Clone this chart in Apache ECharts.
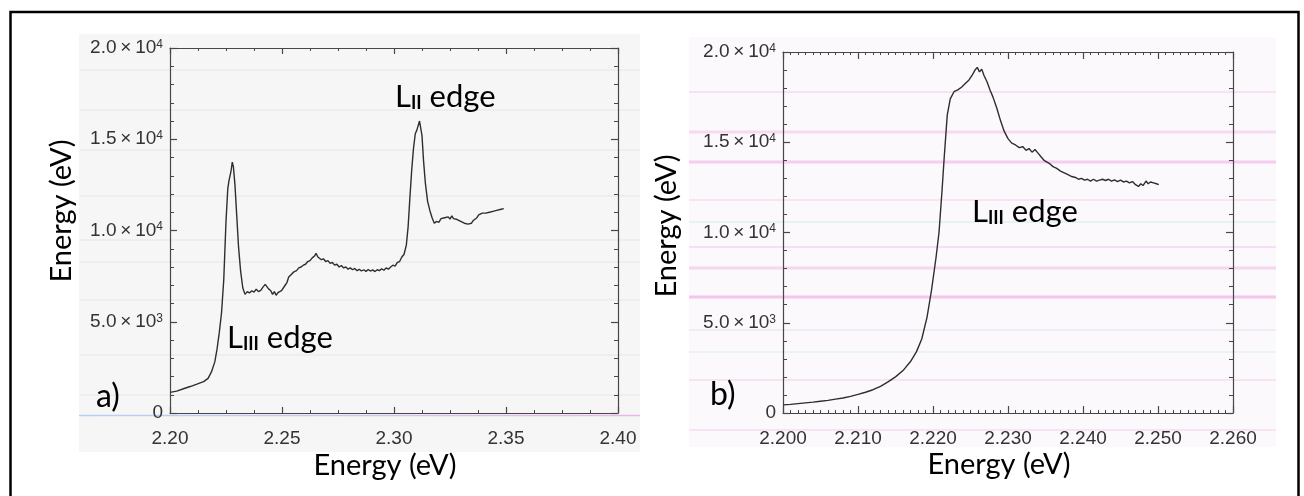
<!DOCTYPE html>
<html>
<head>
<meta charset="utf-8">
<script src="https://cdn.jsdelivr.net/npm/echarts@6/dist/echarts.min.js"></script>
<style>
html,body{margin:0;padding:0;background:#fff;}
#chart{width:1304px;height:496px;}
</style>
</head>
<body>
<div id="chart"></div>
<script>
// ---- Panel a) : L-edge spectrum ----
const energyA = [2.2000,2.2030,2.2060,2.2090,2.2120,2.2150,2.2170,2.2185,2.2200,2.2210,2.2220,2.2230,2.2240,2.2250,2.2258,2.2263,2.2268,2.2273,2.2278,2.2283,2.2290,2.2298,2.2306,2.2315,2.2325,2.2335,2.2345,2.2355,2.2365,2.2375,2.2385,2.2395,2.2405,2.2415,2.2425,2.2432,2.2440,2.2450,2.2458,2.2466,2.2474,2.2482,2.2490,2.2498,2.2506,2.2514,2.2522,2.2530,2.2538,2.2546,2.2555,2.2565,2.2575,2.2585,2.2595,2.2605,2.2615,2.2625,2.2635,2.2645,2.2652,2.2660,2.2668,2.2676,2.2685,2.2695,2.2705,2.2715,2.2725,2.2735,2.2745,2.2755,2.2765,2.2775,2.2785,2.2795,2.2805,2.2815,2.2825,2.2835,2.2845,2.2855,2.2865,2.2875,2.2885,2.2895,2.2905,2.2915,2.2925,2.2935,2.2945,2.2955,2.2965,2.2975,2.2985,2.2995,2.3005,2.3015,2.3025,2.3035,2.3045,2.3055,2.3063,2.3071,2.3079,2.3087,2.3095,2.3102,2.3108,2.3114,2.3119,2.3125,2.3132,2.3140,2.3150,2.3160,2.3170,2.3180,2.3190,2.3200,2.3210,2.3218,2.3226,2.3234,2.3242,2.3250,2.3258,2.3266,2.3274,2.3282,2.3290,2.3298,2.3306,2.3314,2.3322,2.3330,2.3338,2.3346,2.3354,2.3362,2.3370,2.3378,2.3386,2.3394,2.3402,2.3410,2.3418,2.3426,2.3434,2.3442,2.3450,2.3458,2.3466,2.3474,2.3482,2.3490];
const intensityA = [1130,1200,1330,1450,1580,1720,1900,2250,2800,3500,4400,5480,7300,10500,12300,12700,12600,13300,13750,13500,12500,10800,9100,7800,6850,6500,6650,6580,6700,6620,6780,6650,6720,6900,7050,6950,6800,6700,6500,6650,6450,6600,6550,6700,6800,7000,7150,7450,7550,7650,7750,7800,7950,8000,8100,8150,8300,8350,8500,8600,8750,8550,8600,8400,8450,8300,8350,8200,8250,8100,8150,8000,8080,7950,8000,7880,7950,7850,7920,7800,7870,7780,7850,7760,7860,7780,7840,7750,7850,7800,7900,7820,7950,7880,8000,8100,8050,8250,8300,8550,8700,9200,10200,11800,13300,14500,15300,15500,15400,16000,15900,15200,13800,12600,11600,11100,10700,10400,10500,10450,10650,10550,10700,10600,10750,10620,10800,10650,10750,10600,10650,10500,10550,10400,10450,10350,10450,10400,10550,10650,10700,10850,10800,10950,10850,10950,10900,11000,10950,11050,11000,11100,11050,11150,11100,11200];

// ---- Panel b) : L_III edge spectrum ----
const energyB = [2.2000,2.2010,2.2020,2.2030,2.2040,2.2050,2.2060,2.2070,2.2080,2.2090,2.2100,2.2110,2.2120,2.2130,2.2140,2.2150,2.2160,2.2170,2.2178,2.2185,2.2192,2.2198,2.2204,2.2208,2.2212,2.2215,2.2219,2.2223,2.2228,2.2233,2.2238,2.2243,2.2248,2.2252,2.2256,2.2259,2.2262,2.2265,2.2268,2.2272,2.2276,2.2280,2.2285,2.2290,2.2295,2.2300,2.2305,2.2310,2.2315,2.2320,2.2324,2.2328,2.2332,2.2336,2.2340,2.2344,2.2348,2.2352,2.2356,2.2360,2.2365,2.2370,2.2375,2.2380,2.2385,2.2390,2.2394,2.2398,2.2402,2.2406,2.2410,2.2414,2.2418,2.2422,2.2426,2.2430,2.2434,2.2438,2.2442,2.2446,2.2450,2.2454,2.2458,2.2462,2.2466,2.2470,2.2474,2.2477,2.2480,2.2484,2.2487,2.2490,2.2494,2.2498,2.2501];
const intensityB = [450,480,520,560,600,650,700,770,830,920,1030,1150,1290,1480,1720,2000,2350,2850,3400,4100,5300,6800,8600,10000,12300,14200,16500,17400,17800,17900,18050,18250,18450,18700,19000,19150,18900,19050,18700,18350,17900,17500,16900,16200,15600,15200,14950,14850,14700,14750,14550,14650,14450,14600,14400,14200,14000,13900,13800,13650,13550,13400,13300,13200,13100,13050,12950,13000,12900,12950,12850,12950,12850,12900,12950,12880,12950,12850,12920,12820,12900,12800,12850,12750,12820,12650,12550,12700,12600,12850,12700,12800,12750,12700,12650];

// ---- Tick labels ----
const xTicksA = [2.20, 2.25, 2.30, 2.35, 2.40];
const xTickLabelsA = ['2.20', '2.25', '2.30', '2.35', '2.40'];
const xTicksB = [2.20, 2.21, 2.22, 2.23, 2.24, 2.25, 2.26];
const xTickLabelsB = ['2.200', '2.210', '2.220', '2.230', '2.240', '2.250', '2.260'];
const yTicks = [0, 5000, 10000, 15000, 20000];
const yTickMantissa = ['0', '5.0\u2009×\u200910', '1.0\u2009×\u200910', '1.5\u2009×\u200910', '2.0\u2009×\u200910'];
const yTickExponent = ['', '3', '4', '4', '4'];

const axisTitle = 'Energy (eV)';

const chart = echarts.init(document.getElementById('chart'), null, {renderer: 'canvas'});

const tickFont = 'Liberation Sans';
const tickColor = '#333333';
const axisColor = '#474747';

function nearestIndex(arr, v) {
  let best = 0, bd = Infinity;
  arr.forEach((a, i) => { const d = Math.abs(a - v); if (d < bd) { bd = d; best = i; } });
  return best;
}
function xFmt(ticks, labels) {
  return v => labels[nearestIndex(ticks, v)];
}
function yFmt(v) {
  const i = nearestIndex(yTicks, v);
  if (!yTickExponent[i]) return '{a|' + yTickMantissa[i] + '}';
  return '{a|' + yTickMantissa[i] + '}{s|' + yTickExponent[i] + '}';
}
const yRich = {
  a: {fontFamily: tickFont, fontSize: 19, color: tickColor},
  s: {fontFamily: tickFont, fontSize: 12, color: tickColor, verticalAlign: 'top'}
};

function xAxes(grid, min, max, interval, minorSplit, ticks, labels, majorLen, minorLen) {
  const common = {
    gridIndex: grid, type: 'value', min: min, max: max, interval: interval,
    splitLine: {show: false},
    axisLine: {show: true, onZero: false, lineStyle: {color: axisColor, width: 1.2}},
    axisTick: {show: true, inside: true, length: majorLen, lineStyle: {color: axisColor, width: 1.2}},
    minorTick: {show: true, splitNumber: minorSplit, length: minorLen, lineStyle: {color: axisColor, width: 1}},
    minorSplitLine: {show: false}
  };
  return [
    Object.assign({}, common, {position: 'bottom',
      axisLabel: {show: true, margin: 16, formatter: xFmt(ticks, labels), fontFamily: tickFont, fontSize: 19, color: tickColor}}),
    Object.assign({}, common, {position: 'top', axisLabel: {show: false}})
  ];
}
function yAxes(grid, majorLen, minorLen) {
  const common = {
    gridIndex: grid, type: 'value', min: 0, max: 20000, interval: 5000,
    splitLine: {show: false},
    axisLine: {show: true, onZero: false, lineStyle: {color: axisColor, width: 1.2}},
    axisTick: {show: true, inside: true, length: majorLen, lineStyle: {color: axisColor, width: 1.2}},
    minorTick: {show: true, splitNumber: 5, length: minorLen, lineStyle: {color: axisColor, width: 1}},
    minorSplitLine: {show: false}
  };
  return [
    Object.assign({}, common, {position: 'left',
      axisLabel: {show: true, margin: 7, formatter: yFmt, rich: yRich}}),
    Object.assign({}, common, {position: 'right', axisLabel: {show: false}})
  ];
}

const xa = xAxes(0, 2.2, 2.4, 0.05, 4, xTicksA, xTickLabelsA, 6, 3)
  .concat(xAxes(1, 2.2, 2.26, 0.01, 10, xTicksB, xTickLabelsB, 7, 3));
const ya = yAxes(0, 7, 4).concat(yAxes(1, 7, 4));

// background decorations (scanned figure panels)
const deco = [];
deco.push({type: 'rect', z: -10, silent: true, shape: {x: 79, y: 34, width: 561, height: 418}, style: {fill: '#f6f6f6'}});
deco.push({type: 'rect', z: -10, silent: true, shape: {x: 689, y: 37, width: 587, height: 410}, style: {fill: '#fbf9fb'}});
[70, 110, 150, 196, 240, 262, 300, 355, 395].forEach(y => {
  deco.push({type: 'line', z: -9, silent: true, shape: {x1: 80, y1: y, x2: 640, y2: y}, style: {stroke: 'rgba(205,205,205,0.22)', lineWidth: 1.5}});
});
deco.push({type: 'line', z: -8, silent: true, shape: {x1: 79, y1: 415.5, x2: 640, y2: 415.5},
  style: {lineWidth: 1.5, stroke: new echarts.graphic.LinearGradient(0, 0, 1, 0, [{offset: 0, color: '#b6d0f2'}, {offset: 1, color: '#eab6ea'}])}});
[[92,'rgba(238,170,230,0.28)',2],[132,'rgba(238,160,228,0.35)',3],[162,'rgba(238,150,225,0.45)',3],[200,'rgba(230,180,230,0.28)',2],[222,'rgba(190,235,225,0.35)',2],[247,'rgba(238,160,228,0.3)',2],[268,'rgba(238,160,228,0.38)',3],[297,'rgba(238,140,220,0.48)',3],[330,'rgba(230,200,235,0.32)',2],[352,'rgba(200,235,230,0.35)',2],[380,'rgba(238,175,230,0.3)',2],[430,'rgba(238,175,230,0.3)',2]].forEach(s => {
  deco.push({type: 'line', z: -9, silent: true, shape: {x1: 689, y1: s[0], x2: 1276, y2: s[0]}, style: {stroke: s[1], lineWidth: s[2]}});
});
// outer frame
deco.push({type: 'rect', z: 50, silent: true, shape: {x: 10.5, y: 12, width: 1288, height: 500}, style: {fill: 'none', stroke: '#000', lineWidth: 2.5}});

const titleFont = 'Lato';
const titleSize = 29;
function txt(x, y, text, rich, size) {
  return {type: 'text', z: 60, silent: true, x: x, y: y,
    style: {text: text, rich: rich, fontFamily: titleFont, fontSize: size || 31, fill: '#000', align: 'left', verticalAlign: 'middle'}};
}
const edgeRich = {
  L: {fontFamily: titleFont, fontSize: 31, color: '#000'},
  s: {fontFamily: titleFont, fontSize: 18, fontWeight: 'bold', color: '#000', verticalAlign: 'bottom'},
  e: {fontFamily: titleFont, fontSize: 31, color: '#000'}
};
deco.push(txt(395, 97, '{L|L}{s|II}{e| edge}', edgeRich));
deco.push(txt(227, 338, '{L|L}{s|III}{e| edge}', edgeRich));
deco.push(txt(972, 212, '{L|L}{s|III}{e| edge}', edgeRich));
deco.push(txt(96, 397, 'a)', null, 32));
deco.push(txt(710, 395, 'b)', null, 32));
// axis titles
function axTitle(x, y, rot) {
  return {type: 'text', z: 60, silent: true, x: x, y: y, rotation: rot,
    style: {text: axisTitle, fontFamily: titleFont, fontSize: titleSize, fill: '#000', align: 'center', verticalAlign: 'middle'}};
}
deco.push(axTitle(385, 466, 0));
deco.push(axTitle(999, 465, 0));
deco.push(axTitle(62, 211, Math.PI / 2));
deco.push(axTitle(667, 226, Math.PI / 2));

const option = {
  animation: false,
  backgroundColor: '#ffffff',
  grid: [
    {left: 170, right: 686, top: 48, bottom: 83, containLabel: false},
    {left: 783, right: 71, top: 52, bottom: 83, containLabel: false}
  ],
  xAxis: xa,
  yAxis: ya,
  graphic: {elements: deco},
  series: [
    {type: 'line', xAxisIndex: 0, yAxisIndex: 0, showSymbol: false, smooth: false,
      lineStyle: {color: '#2e2e2e', width: 1.4}, data: energyA.map((e, i) => [e, intensityA[i]])},
    {type: 'line', xAxisIndex: 2, yAxisIndex: 2, showSymbol: false, smooth: false,
      lineStyle: {color: '#2e2e2e', width: 1.4}, data: energyB.map((e, i) => [e, intensityB[i]])}
  ]
};
chart.setOption(option);
</script>
</body>
</html>
